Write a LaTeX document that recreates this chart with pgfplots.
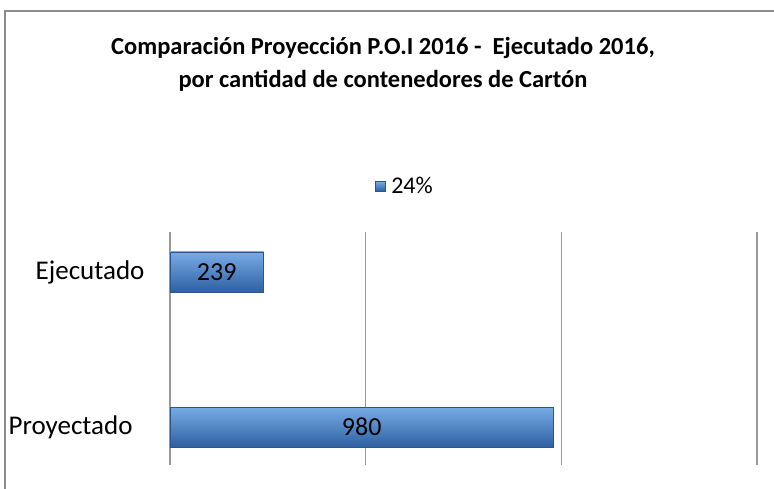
\documentclass[border=0pt]{standalone}
\usepackage{pgfplots}
\pgfplotsset{compat=1.18}
\usepackage{fontspec}
\setmainfont{Carlito}

\definecolor{bartop}{HTML}{78ACE6}
\definecolor{barmid}{HTML}{3B78C6}
\definecolor{barbot}{HTML}{2E60A2}
\definecolor{baredge}{HTML}{2A5590}
\definecolor{framegray}{HTML}{8C8C8C}
\definecolor{gridgray}{HTML}{9A9A9A}

\pgfplotsset{bevelbar/.style={xbar, bar width=40pt, draw=baredge,
    top color=bartop, middle color=barmid, bottom color=barbot}}

\begin{document}
\begin{tikzpicture}
\path[use as bounding box] (0pt,0pt) rectangle (774pt,489pt);
% outer frame (left and top only, as cropped in the reference)
\draw[framegray, line width=2pt] (5pt,0pt) -- (5pt,478pt) -- (774pt,478pt);
\node[font=\bfseries\fontsize{24.5}{33}\selectfont, align=center] at (383pt,425pt)
  {Comparación Proyección P.O.I 2016 -\ \ Ejecutado 2016,\\por cantidad de contenedores de Cartón};

\begin{axis}[
    at={(170pt,24pt)}, anchor=south west,
    scale only axis,
    width=587pt, height=233pt,
    xmin=0, xmax=1500,
    ymin=-0.245, ymax=1.258,
    xtick={0,500,1000,1500},
    xticklabels={},
    ytick={0,1},
    yticklabels={Proyectado\hspace*{12pt}, Ejecutado},
    major tick length=0pt,
    axis line style={draw=none},
    xmajorgrids,
    grid style={gridgray, line width=1.5pt},
    tick label style={font=\fontsize{27}{31}\selectfont},
    yticklabel style={anchor=east, xshift=-22pt},
    legend style={at={(rel axis cs:0.40,1.197)}, anchor=center, draw=none, fill=none,
        font=\fontsize{24}{28}\selectfont, inner sep=0pt,
        /tikz/every odd column/.append style={column sep=4pt}},
    legend image code/.code={\draw[baredge, top color=bartop, bottom color=barbot]
        (0pt,-5pt) rectangle (10pt,5pt);},
]
\addplot[bevelbar] coordinates {(980,0)};
\addlegendentry{24\%}
\addplot[bevelbar, forget plot] coordinates {(239,1)};
\addplot[only marks, mark=none, nodes near coords, point meta=explicit symbolic,
    nodes near coords align={center}, forget plot,
    every node near coord/.append style={font=\fontsize{26}{31}\selectfont, anchor=center}]
  coordinates {(490,0)[980] (119.5,1)[239]};
\end{axis}
\end{tikzpicture}
\end{document}
